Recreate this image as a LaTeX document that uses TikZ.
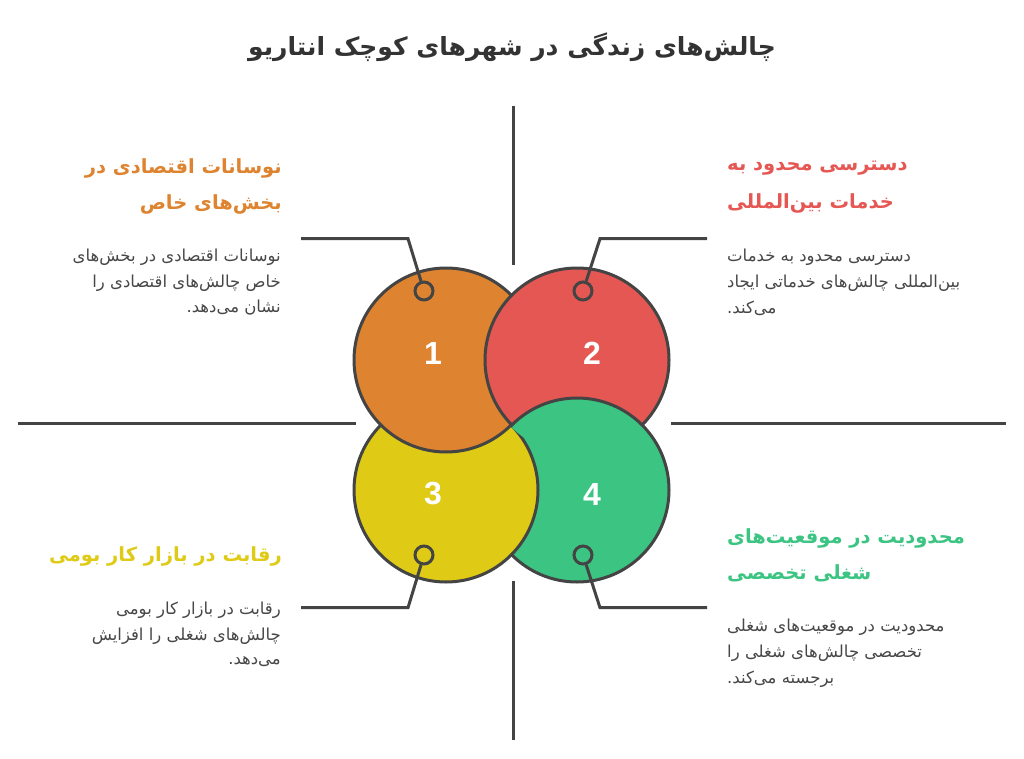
\documentclass[tikz,border=0pt]{standalone}
\usepackage{fontspec}
\TeXXeTstate=1
\newfontfamily\arabicfont[Script=Arabic]{DejaVu Sans}
\newfontfamily\numfont{Liberation Sans}
\definecolor{cor}{HTML}{DE832F}
\definecolor{cred}{HTML}{E55753}
\definecolor{cyel}{HTML}{DFCB15}
\definecolor{cgrn}{HTML}{3CC482}
\definecolor{lineg}{HTML}{444444}
\definecolor{titleg}{HTML}{333333}
\definecolor{bodyg}{HTML}{474747}
\tikzset{
  outl/.style={draw=lineg, line width=3pt},
  conn/.style={draw=lineg, line width=3pt},
  dotnode/.style={circle, draw=lineg, line width=3pt, minimum size=18pt, inner sep=0pt},
  titletext/.style={font=\arabicfont\bfseries\fontsize{25}{29}\selectfont, text=titleg, inner sep=0pt},
  headtext/.style={font=\arabicfont\bfseries\fontsize{19.5}{24}\selectfont, inner sep=0pt},
  bodytext/.style={font=\arabicfont\fontsize{16.5}{20}\selectfont, text=bodyg, inner sep=0pt},
  numtext/.style={font=\numfont\bfseries\fontsize{32}{32}\selectfont, text=white, inner sep=0pt},
}
\begin{document}
\begin{tikzpicture}[x=1pt,y=-1pt]
\useasboundingbox[fill=white] (0,0) rectangle (1024,759);
\def\R{92pt}
% circle centres
\coordinate (c1) at (446,360);
\coordinate (c2) at (577,360);
\coordinate (c3) at (446,490);
\coordinate (c4) at (577,490);
% axis lines
\coordinate (a1) at (513,106); \coordinate (a2) at (513,265);
\coordinate (a3) at (513,581); \coordinate (a4) at (513,740);
\coordinate (a5) at (18,423);  \coordinate (a6) at (356,423);
\coordinate (a7) at (671,423); \coordinate (a8) at (1006,423);
\draw[conn] (a1) -- (a2);
\draw[conn] (a3) -- (a4);
\draw[conn] (a5) -- (a6);
\draw[conn] (a7) -- (a8);
% interlocking circles
\path[fill=cgrn, outl] (c4) circle[radius=\R];
\path[fill=cyel, outl] (c3) circle[radius=\R];
\path[fill=cor,  outl] (c1) circle[radius=\R];
\path[fill=cred, outl] (c2) circle[radius=\R];
\begin{scope}
  \clip (c2) circle[radius=94pt];
  \path[fill=cgrn, outl] (c4) circle[radius=\R];
\end{scope}
% numbers
\node[numtext] (n1) at (433,353) {1};
\node[numtext] (n2) at (592,353) {2};
\node[numtext] (n3) at (433,494) {3};
\node[numtext] (n4) at (592,494) {4};
% connector dots
\node[dotnode] (d1) at (424,291) {};
\node[dotnode] (d2) at (583,291) {};
\node[dotnode] (d3) at (424,555) {};
\node[dotnode] (d4) at (583,555) {};
\coordinate (e1) at (301,238.7); \coordinate (k1) at (408,238.7);
\coordinate (e2) at (707,238.7); \coordinate (k2) at (600,238.7);
\coordinate (e3) at (301,607.7); \coordinate (k3) at (408,607.7);
\coordinate (e4) at (707,607.7); \coordinate (k4) at (600,607.7);
\draw[conn] (e1) -- (k1) -- (d1);
\draw[conn] (e2) -- (k2) -- (d2);
\draw[conn] (e3) -- (k3) -- (d3);
\draw[conn] (e4) -- (k4) -- (d4);
% title
\node[titletext] (title) at (512,47) {\beginR چالش^^^^200cهای زندگی در شهرهای کوچک انتاریو\endR};
% block 1 (orange)
\node[headtext, text=cor, anchor=east] (h1a) at (282,168) {\beginR نوسانات اقتصادی در\endR};
\node[headtext, text=cor, anchor=east] (h1b) at (282,204) {\beginR بخش^^^^200cهای خاص\endR};
\node[bodytext, anchor=east] (b1a) at (281,257) {\beginR نوسانات اقتصادی در بخش^^^^200cهای\endR};
\node[bodytext, anchor=east] (b1b) at (281,283) {\beginR خاص چالش^^^^200cهای اقتصادی را\endR};
\node[bodytext, anchor=east] (b1c) at (281,308) {\beginR نشان می^^^^200cدهد.\endR};
% block 2 (red)
\node[headtext, text=cred, anchor=west] (h2a) at (727,168) {\beginR دسترسی محدود به\endR};
\node[headtext, text=cred, anchor=west] (h2b) at (727,203) {\beginR خدمات بین^^^^200cالمللی\endR};
\node[bodytext, anchor=west] (b2a) at (727,257) {\beginR دسترسی محدود به خدمات\endR};
\node[bodytext, anchor=west] (b2b) at (727,283) {\beginR بین^^^^200cالمللی چالش^^^^200cهای خدماتی ایجاد\endR};
\node[bodytext, anchor=west] (b2c) at (727,308) {\beginR می^^^^200cکند.\endR};
% block 3 (yellow)
\node[headtext, text=cyel, anchor=east] (h3a) at (282,556) {\beginR رقابت در بازار کار بومی\endR};
\node[bodytext, anchor=east] (b3a) at (281,610) {\beginR رقابت در بازار کار بومی\endR};
\node[bodytext, anchor=east] (b3b) at (281,636) {\beginR چالش^^^^200cهای شغلی را افزایش\endR};
\node[bodytext, anchor=east] (b3c) at (281,662) {\beginR می^^^^200cدهد.\endR};
% block 4 (green)
\node[headtext, text=cgrn, anchor=west] (h4a) at (727,538) {\beginR محدودیت در موقعیت^^^^200cهای\endR};
\node[headtext, text=cgrn, anchor=west] (h4b) at (727,573) {\beginR شغلی تخصصی\endR};
\node[bodytext, anchor=west] (b4a) at (727,627) {\beginR محدودیت در موقعیت^^^^200cهای شغلی\endR};
\node[bodytext, anchor=west] (b4b) at (727,653) {\beginR تخصصی چالش^^^^200cهای شغلی را\endR};
\node[bodytext, anchor=west] (b4c) at (727,679) {\beginR برجسته می^^^^200cکند.\endR};
\end{tikzpicture}
\end{document}
